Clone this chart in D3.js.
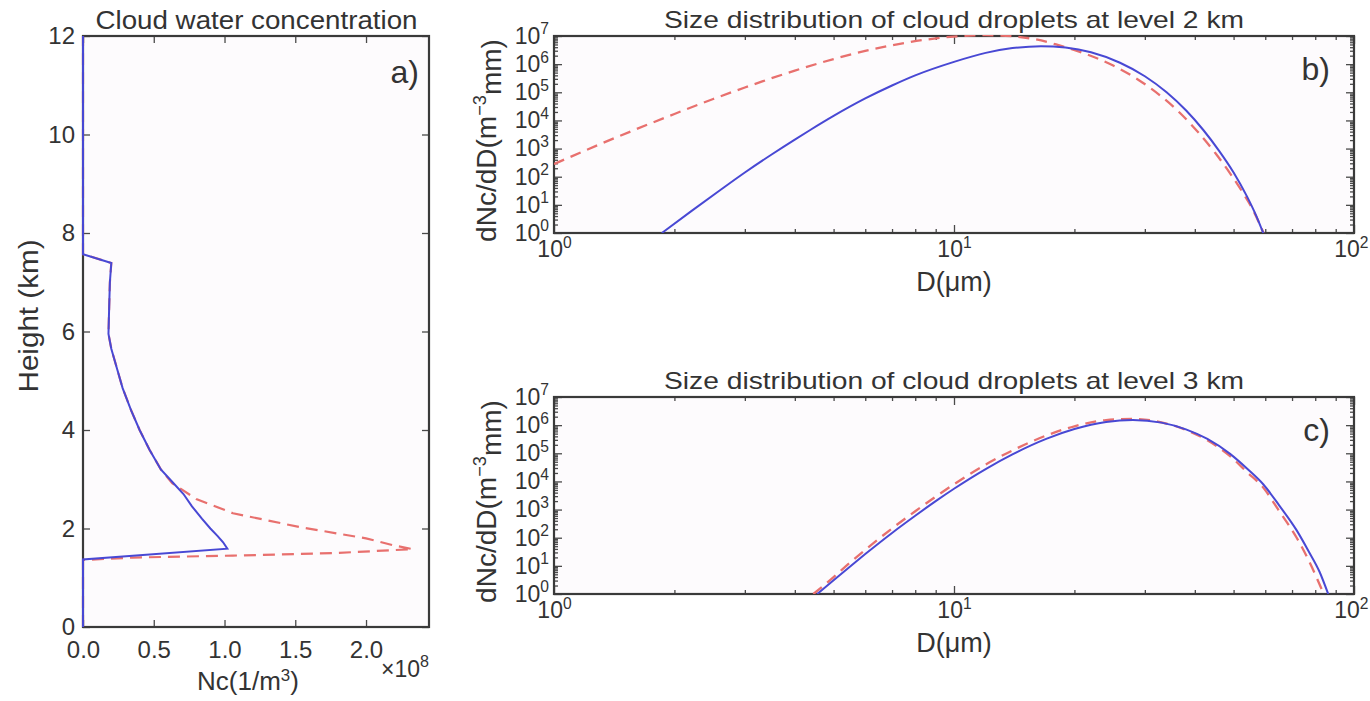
<!DOCTYPE html>
<html lang='en'>
<head>
<meta charset='UTF-8'>
<script src='https://d3js.org/d3.v7.min.js'></script>
<title>Cloud droplets</title>
<style>
  body { margin: 0; background: #fff; }
  svg { display: block; font-family: 'Liberation Sans', Arial, sans-serif; }
</style>
</head>
<body>
<svg id='fig' width='1370' height='701'></svg>

<script>
// a) vertical profile: height (km) vs Nc (x 1e8 per m3)
let heightSolid = [0, 1.37, 1.59, 1.72, 1.85, 2.0, 2.2, 2.45, 2.7, 2.95, 3.2, 3.6, 4.0, 4.4, 4.85, 5.25, 5.65, 5.95, 6.5, 7.0, 7.39, 7.57, 12]
let ncSolid     = [0, 0, 1.02, 0.99, 0.95, 0.90, 0.84, 0.77, 0.71, 0.63, 0.55, 0.47, 0.40, 0.34, 0.28, 0.24, 0.20, 0.18, 0.185, 0.19, 0.20, 0, 0]
let heightDash  = [0, 1.36, 1.41, 1.45, 1.50, 1.58, 1.66, 1.80, 2.03, 2.31, 2.6, 2.92, 3.2, 3.6, 4.0, 4.4, 4.85, 5.25, 5.65, 5.95, 6.5, 7.0, 7.39, 7.57, 12]
let ncDash      = [0, 0, 0.35, 1.06, 1.77, 2.33, 2.19, 2.0, 1.53, 1.06, 0.80, 0.63, 0.55, 0.47, 0.40, 0.34, 0.28, 0.24, 0.20, 0.18, 0.185, 0.19, 0.20, 0, 0]
let ncTicks = [0, 0.5, 1, 1.5, 2]
let heightTicks = [0, 2, 4, 6, 8, 10, 12]

// b) size distribution at 2 km: diameter (um) and log10 of dNc/dD
let diam2kmSolid = [1.86, 2.2, 2.6, 3.0, 3.5, 4.0, 4.37, 5.0, 6.0, 7.0, 8.0, 10, 12, 14, 16.5, 19, 22, 26, 30, 34, 38, 42, 46, 50, 54, 57, 59.3]
let exp2kmSolid  = [0, 0.77, 1.52, 2.15, 2.79, 3.32, 3.66, 4.16, 4.78, 5.24, 5.6, 6.08, 6.4, 6.57, 6.64, 6.59, 6.42, 6.05, 5.57, 5.0, 4.36, 3.66, 2.92, 2.15, 1.3, 0.6, 0]
let diam2kmDash  = [1, 1.3, 1.6, 2.0, 2.5, 3.0, 3.5, 4.0, 5.0, 6.0, 7.0, 8.5, 10, 12, 14, 16, 18, 21, 25, 29, 33, 37, 41, 45, 49, 53, 56, 59.4]
let exp2kmDash   = [2.45, 3.15, 3.68, 4.23, 4.76, 5.17, 5.5, 5.77, 6.18, 6.47, 6.67, 6.87, 6.98, 7.03, 6.99, 6.88, 6.7, 6.4, 5.95, 5.43, 4.85, 4.22, 3.54, 2.84, 2.12, 1.38, 0.8, 0]

// c) size distribution at 3 km
let diam3kmSolid = [4.55, 5, 5.5, 6, 7, 8, 9, 10, 12, 14, 17, 20, 24, 28, 33, 38, 43, 49, 54, 59.3, 65, 71.9, 77, 82, 86.2]
let exp3kmSolid  = [0, 0.49, 0.98, 1.42, 2.17, 2.78, 3.3, 3.74, 4.44, 4.96, 5.51, 5.86, 6.11, 6.18, 6.09, 5.85, 5.51, 4.98, 4.46, 3.9, 3.15, 2.26, 1.52, 0.79, 0]
let diam3kmDash  = [4.45, 5, 5.5, 6, 7, 8, 9, 10, 12, 14, 17, 20, 24, 28, 33, 38, 43, 49, 54, 59.3, 65, 71.9, 77, 84]
let exp3kmDash   = [0, 0.6, 1.12, 1.57, 2.33, 2.94, 3.46, 3.9, 4.6, 5.1, 5.63, 5.96, 6.18, 6.22, 6.1, 5.83, 5.46, 4.9, 4.33, 3.78, 2.95, 2.0, 1.2, 0]

let diamTicks = [1, 10, 100]
let distTicks = [1e0, 1e1, 1e2, 1e3, 1e4, 1e5, 1e6, 1e7]

const blue = '#4848d4'
const red = '#e8706e'
const ink = '#333'
const plotBg = '#fdfbfd'

const svg = d3.select('#fig')

// shared axis styling
function styleAxis(g, size) {
  g.select('.domain').remove()
  g.selectAll('.tick line').attr('stroke', '#4a4a4a').attr('stroke-width', 1.3)
  g.selectAll('.tick text').attr('fill', ink).attr('font-size', size).attr('font-family', "'Liberation Sans', Arial, sans-serif")
}

// 10 with a superscript exponent
function powerLabel(g) {
  g.selectAll('.tick text').each(function (d) {
    let t = d3.select(this).text(null)
    t.append('tspan').text('10')
    t.append('tspan').attr('dy', '-0.6em').attr('font-size', '0.68em').text(Math.round(Math.log10(d)))
  })
}

/* ---------- panel a ---------- */
;(function () {
  let left = 83, top = 36, w = 346, h = 591
  let x = d3.scaleLinear().domain([0, 2.445]).range([0, w])
  let y = d3.scaleLinear().domain([0, 12]).range([h, 0])
  let g = svg.append('g').attr('transform', `translate(${left},${top})`)

  g.append('rect').attr('width', w).attr('height', h).attr('fill', plotBg)
  g.append('clipPath').attr('id', 'clipA').append('rect')
    .attr('x', -2).attr('y', -2).attr('width', w + 4).attr('height', h + 4)

  g.append('g').attr('transform', `translate(0,${h})`)
    .call(d3.axisBottom(x).tickValues(ncTicks).tickFormat(d3.format('.1f')).tickSizeInner(-7).tickSizeOuter(0).tickPadding(14))
    .call(a => styleAxis(a, 24))
  g.append('g')
    .call(d3.axisTop(x).tickValues(ncTicks).tickFormat('').tickSizeInner(-7).tickSizeOuter(0))
    .call(a => styleAxis(a, 24))
  g.append('g')
    .call(d3.axisLeft(y).tickValues(heightTicks).tickSizeInner(-7).tickSizeOuter(0).tickPadding(8))
    .call(a => styleAxis(a, 24))
  g.append('g').attr('transform', `translate(${w},0)`)
    .call(d3.axisRight(y).tickValues(heightTicks).tickFormat('').tickSizeInner(-7).tickSizeOuter(0))
    .call(a => styleAxis(a, 24))

  g.append('rect').attr('width', w).attr('height', h)
    .attr('fill', 'none').attr('stroke', '#3a3a3a').attr('stroke-width', 2.2)

  let line = d3.line().x(d => x(d[0])).y(d => y(d[1]))
  g.append('path').datum(d3.zip(ncDash, heightDash))
    .attr('clip-path', 'url(#clipA)')
    .attr('d', line).attr('fill', 'none').attr('stroke', red)
    .attr('stroke-width', 2.2).attr('stroke-dasharray', '12,7')
  g.append('path').datum(d3.zip(ncSolid, heightSolid))
    .attr('clip-path', 'url(#clipA)')
    .attr('d', line).attr('fill', 'none').attr('stroke', blue).attr('stroke-width', 2)

  g.append('text').attr('x', w / 2 + 0.5).attr('y', -7).attr('text-anchor', 'middle')
    .attr('font-size', 26).attr('fill', ink)
    .attr('textLength', 322).attr('lengthAdjust', 'spacingAndGlyphs')
    .text('Cloud water concentration')
  g.append('text').attr('x', w - 10).attr('y', 47).attr('text-anchor', 'end')
    .attr('font-size', 32).attr('fill', ink).text('a)')

  // x label and the axis multiplier sit under the plot
  let xl = g.append('text').attr('x', w / 2 - 8).attr('y', h + 63).attr('text-anchor', 'middle')
    .attr('font-size', 26).attr('fill', ink)
  xl.append('tspan').text('Nc(1/m')
  xl.append('tspan').attr('dy', '-0.55em').attr('font-size', '0.65em').text('3')
  xl.append('tspan').attr('dy', '0.35em').text(')')

  let mul = g.append('text').attr('x', 298).attr('y', h + 50).attr('font-size', 23).attr('fill', ink)
  mul.append('tspan').text('\u00d710')
  mul.append('tspan').attr('dy', '-0.6em').attr('font-size', '0.7em').text('8')

  g.append('text').attr('transform', `translate(-45,${280})rotate(-90)`).attr('text-anchor', 'middle')
    .attr('font-size', 28).attr('fill', ink)
    .attr('textLength', 153).attr('lengthAdjust', 'spacingAndGlyphs')
    .text('Height (km)')
})()

/* ---------- panels b and c ---------- */
function sizePanel(top, id, title, tag, solidD, solidE, dashD, dashE) {
  let left = 554, w = 800, h = 197
  let x = d3.scaleLog().domain([1, 100]).range([0, w])
  let y = d3.scaleLog().domain([1, 1e7]).range([h, 0])
  let g = svg.append('g').attr('transform', `translate(${left},${top})`)

  let minorX = []
  for (let e = 0; e < 2; e++) for (let m = 2; m < 10; m++) minorX.push(m * 10 ** e)
  let minorY = []
  for (let e = 0; e < 7; e++) for (let m = 2; m < 10; m++) minorY.push(m * 10 ** e)

  g.append('rect').attr('width', w).attr('height', h).attr('fill', plotBg)
  g.append('clipPath').attr('id', id).append('rect')
    .attr('x', 0).attr('y', -1).attr('width', w).attr('height', h + 1)

  // major ticks with labels, inside on all four sides
  g.append('g').attr('transform', `translate(0,${h})`)
    .call(d3.axisBottom(x).tickValues(diamTicks).tickSizeInner(-8).tickSizeOuter(0).tickPadding(8))
    .call(a => styleAxis(a, 23)).call(powerLabel)
    .call(a => a.selectAll('.tick text').filter(d => d === 100).attr('text-anchor', 'end').attr('x', 14))
  g.append('g')
    .call(d3.axisTop(x).tickValues(diamTicks).tickFormat('').tickSizeInner(-8).tickSizeOuter(0))
    .call(a => styleAxis(a, 23))
  g.append('g')
    .call(d3.axisLeft(y).tickValues(distTicks).tickSizeInner(-8).tickSizeOuter(0).tickPadding(5))
    .call(a => styleAxis(a, 23)).call(powerLabel)
  g.append('g').attr('transform', `translate(${w},0)`)
    .call(d3.axisRight(y).tickValues(distTicks).tickFormat('').tickSizeInner(-8).tickSizeOuter(0))
    .call(a => styleAxis(a, 23))

  // minor ticks
  g.append('g').attr('transform', `translate(0,${h})`)
    .call(d3.axisBottom(x).tickValues(minorX).tickFormat('').tickSizeInner(-4).tickSizeOuter(0))
    .call(a => styleAxis(a, 23))
  g.append('g')
    .call(d3.axisTop(x).tickValues(minorX).tickFormat('').tickSizeInner(-4).tickSizeOuter(0))
    .call(a => styleAxis(a, 23))
  g.append('g')
    .call(d3.axisLeft(y).tickValues(minorY).tickFormat('').tickSizeInner(-4).tickSizeOuter(0))
    .call(a => styleAxis(a, 23))
  g.append('g').attr('transform', `translate(${w},0)`)
    .call(d3.axisRight(y).tickValues(minorY).tickFormat('').tickSizeInner(-4).tickSizeOuter(0))
    .call(a => styleAxis(a, 23))

  g.append('rect').attr('width', w).attr('height', h)
    .attr('fill', 'none').attr('stroke', '#3a3a3a').attr('stroke-width', 2.2)

  let line = d3.line().x(d => x(d[0])).y(d => y(10 ** d[1])).curve(d3.curveMonotoneX)
  g.append('path').datum(d3.zip(dashD, dashE))
    .attr('clip-path', `url(#${id})`)
    .attr('d', line).attr('fill', 'none').attr('stroke', red)
    .attr('stroke-width', 2.3).attr('stroke-dasharray', '11,7')
  g.append('path').datum(d3.zip(solidD, solidE))
    .attr('clip-path', `url(#${id})`)
    .attr('d', line).attr('fill', 'none').attr('stroke', blue).attr('stroke-width', 2)

  g.append('text').attr('x', w / 2).attr('y', -8).attr('text-anchor', 'middle')
    .attr('font-size', 24).attr('fill', ink)
    .attr('textLength', 580).attr('lengthAdjust', 'spacingAndGlyphs')
    .text(title)
  g.append('text').attr('x', w - 24).attr('y', 44).attr('text-anchor', 'end')
    .attr('font-size', 32).attr('fill', ink).text(tag)

  g.append('text').attr('x', w / 2).attr('y', h + 58).attr('text-anchor', 'middle')
    .attr('font-size', 27).attr('fill', ink).text('D(\u03bcm)')

  let yl = g.append('text').attr('transform', `translate(-58,${h / 2 + 6})rotate(-90)`)
    .attr('text-anchor', 'middle').attr('font-size', 28).attr('fill', ink)
  yl.append('tspan').text('dNc/dD(m')
  yl.append('tspan').attr('dy', '-0.55em').attr('font-size', '0.65em').text('\u22123')
  yl.append('tspan').attr('dy', '0.55em').text('mm)')
}

sizePanel(36, 'clipB', 'Size distribution of cloud droplets at level 2 km', 'b)',
  diam2kmSolid, exp2kmSolid, diam2kmDash, exp2kmDash)
sizePanel(397, 'clipC', 'Size distribution of cloud droplets at level 3 km', 'c)',
  diam3kmSolid, exp3kmSolid, diam3kmDash, exp3kmDash)
</script>
</body>
</html>
